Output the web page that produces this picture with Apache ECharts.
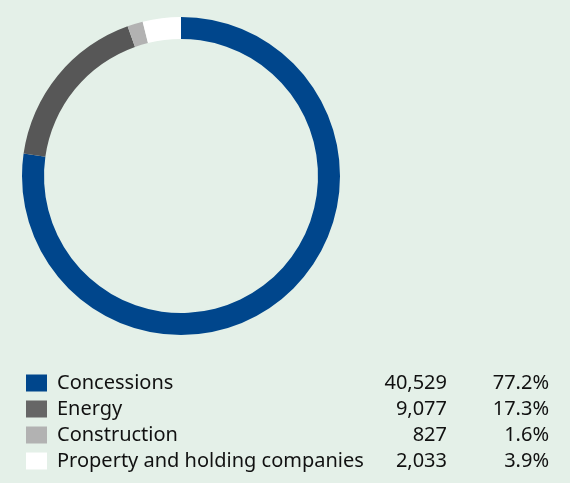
<!DOCTYPE html>
<html>
<head>
<meta charset="utf-8">
<script src="https://cdn.jsdelivr.net/npm/echarts@6/dist/echarts.min.js"></script>
<style>
  html, body { margin: 0; padding: 0; background: #e4f0e8; }
  #chart { width: 570px; height: 483px; }
</style>
</head>
<body>
<div id="chart"></div>
<script>
// segment data, clockwise from 12 o'clock
const segments = ["Concessions", "Energy", "Construction", "Property and holding companies"];
const amounts  = [40529, 9077, 827, 2033];
const shares   = ["77.2%", "17.3%", "1.6%", "3.9%"];
const ringColors   = ["#00468c", "#575757", "#b2b2b2", "#ffffff"];
const legendColors = ["#00468c", "#666666", "#b2b2b2", "#ffffff"];

function fmtInt(n){
  return Number(n).toLocaleString("en-US");
}

const el = document.getElementById("chart");
const chart = echarts.init(el);

const txt = { fontFamily: "Noto Sans", fontSize: 20, lineHeight: 17, color: "#111" };

const option = {
  backgroundColor: "#e4f0e8",
  animation: false,
  legend: {
    orient: "vertical",
    left: 26,
    top: 373,
    height: 110,
    padding: 0,
    itemWidth: 21,
    itemHeight: 17,
    itemGap: 6,
    icon: "rect",
    selectedMode: false,
    data: segments.map((s, i) => ({ name: s, itemStyle: { color: legendColors[i] } })),
    formatter: (name) => {
      const i = segments.indexOf(name);
      return `{n|${name}}{v|${fmtInt(amounts[i])}}{p|${shares[i]}}`;
    },
    textStyle: Object.assign({}, txt, {
      padding: [0, 0, 0, 5],
      rich: {
        n: Object.assign({ width: 309, align: "left" }, txt),
        v: Object.assign({ width: 81, align: "right" }, txt),
        p: Object.assign({ width: 102, align: "right" }, txt)
      }
    })
  },
  series: [{
    type: "pie",
    center: [181, 176],
    radius: [137, 159],
    startAngle: 90,
    clockwise: true,
    label: { show: false },
    labelLine: { show: false },
    emphasis: { disabled: true },
    silent: true,
    data: segments.map((s, i) => ({
      name: s,
      value: amounts[i],
      itemStyle: { color: ringColors[i] }
    }))
  }]
};

chart.setOption(option);
window.addEventListener("resize", () => chart.resize());
</script>
</body>
</html>
